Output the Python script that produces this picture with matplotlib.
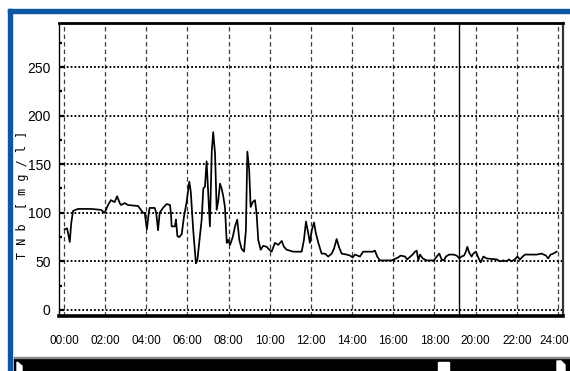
import matplotlib
matplotlib.use("Agg")
import matplotlib.pyplot as plt
import matplotlib.transforms as mtransforms
from matplotlib.patches import Rectangle, Polygon

# ---- data (hours, TNb mg/l) ----
hours = [0.03, 0.15, 0.28, 0.35, 0.44, 0.68, 1.31, 1.80, 1.98, 2.14, 2.28, 2.46, 2.58, 2.71, 2.77,
         2.95, 3.11, 3.60, 3.74, 3.84, 3.92, 4.03, 4.12, 4.16, 4.41, 4.48, 4.57, 4.65, 4.81, 4.99,
         5.15, 5.20, 5.23, 5.39, 5.44, 5.51, 5.60, 5.72, 5.83, 5.96, 6.09, 6.16, 6.28, 6.41, 6.48,
         6.57, 6.69, 6.77, 6.85, 6.93, 7.06, 7.09, 7.18, 7.25, 7.34, 7.42, 7.50, 7.58, 7.66, 7.74,
         7.82, 7.91, 7.98, 8.07, 8.20, 8.31, 8.42, 8.52, 8.63, 8.75, 8.84, 8.91, 9.00, 9.07, 9.17,
         9.28, 9.36, 9.44, 9.56, 9.68, 9.85, 9.98, 10.09, 10.25, 10.41, 10.58, 10.69, 10.82, 10.98,
         11.14, 11.55, 11.66, 11.76, 11.87, 11.95, 12.04, 12.15, 12.24, 12.36, 12.52, 12.68, 12.84,
         13.01, 13.12, 13.25, 13.36, 13.49, 13.74, 13.90, 14.03, 14.14, 14.38, 14.54, 14.79, 15.00,
         15.11, 15.22, 15.35, 15.92, 16.24, 16.36, 16.57, 16.68, 16.94, 17.06, 17.14, 17.22, 17.30,
         17.44, 17.62, 17.98, 18.11, 18.24, 18.35, 18.46, 18.56, 18.72, 18.92, 19.08, 19.21, 19.32,
         19.44, 19.53, 19.60, 19.69, 19.81, 19.89, 20.02, 20.13, 20.25, 20.38, 20.54, 21.03, 21.19,
         21.35, 21.51, 21.62, 21.75, 21.91, 22.03, 22.16, 22.29, 22.40, 22.56, 22.97, 23.21, 23.42,
         23.53, 23.65, 23.78, 23.94]
tnb = [83, 84, 70, 89, 102, 104, 104, 103, 100, 108, 113, 111, 117, 110, 108,
       110, 108, 107, 103, 100, 100, 83, 100, 105, 105, 100, 82, 100, 105, 109,
       108, 99, 86, 86, 93, 76, 75, 78, 96, 111, 132, 122, 82, 48, 51,
       69, 93, 125, 127, 153, 99, 86, 163, 183, 161, 103, 113, 130, 125, 117,
       106, 69, 72, 67, 75, 86, 93, 72, 63, 60, 82, 163, 144, 106, 111,
       113, 99, 72, 62, 66, 65, 62, 60, 69, 67, 71, 65, 62, 61,
       60, 60, 72, 91, 79, 69, 82, 90, 79, 69, 58, 58, 55,
       58, 63, 73, 65, 58, 57, 56, 54, 57, 55, 60, 60, 60,
       61, 55, 51, 51, 54, 56, 55, 52, 57, 60, 61, 51, 57,
       53, 51, 51, 55, 58, 52, 51, 55, 57, 57, 56, 53, 55,
       56, 60, 65, 59, 55, 58, 60, 54, 49, 55, 53, 52, 50,
       51, 50, 52, 50, 52, 55, 52, 55, 57, 57, 57, 58, 56,
       53, 57, 58, 60]

xtick_hours = list(range(0, 25, 2))
xtick_labels = ["%02d:00" % h for h in xtick_hours]
ytick_vals = [0, 50, 100, 150, 200, 250]
cursor_hour = 19.2
ylabel = "T N b  [ m g / l ]"

FONT = ["Liberation Sans", "DejaVu Sans"]

fig = plt.figure(figsize=(5.70, 3.71), dpi=100)
W, H = 570, 371

def fx(px):
    return px / W

def fy(py):
    return 1 - py / H

blue = "#0b57a3"
# blue window frame
fig.patches.append(Rectangle((fx(8), 0), fx(4), fy(9), transform=fig.transFigure, color=blue, zorder=0))
fig.patches.append(Rectangle((fx(8), fy(13)), 1, 4 / H, transform=fig.transFigure, color=blue, zorder=0))

# scrollbar
fig.patches.append(Rectangle((fx(14), 0), 1, fy(358), transform=fig.transFigure, color="black", zorder=1))
fig.patches.append(Rectangle((fx(14), fy(358)), 1, 1 / H, transform=fig.transFigure, color="#888888", zorder=1))
fig.patches.append(Rectangle((fx(438), 0), fx(11), fy(362), transform=fig.transFigure, color="white", zorder=2))
fig.patches.append(Polygon([[fx(17), fy(371)], [fx(17), fy(362)], [fx(22), fy(366)], [fx(22), fy(371)]],
                           closed=True, transform=fig.transFigure, color="white", zorder=2))
fig.patches.append(Polygon([[fx(557), fy(371)], [fx(557), fy(361)], [fx(561), fy(361)], [fx(565), fy(365)], [fx(565), fy(371)]],
                           closed=True, transform=fig.transFigure, color="white", zorder=2))

ax = fig.add_axes([fx(59), fy(316), fx(563 - 59), (316 - 23) / H])
ax.set_xlim(-0.243, 24.25)
ax.set_ylim(-6.2, 295.3)

for h in xtick_hours:
    ax.axvline(h, color="#3a3a3a", lw=0.9, linestyle=(0, (3.5, 2.5)), zorder=1)
for v in ytick_vals:
    ax.axhline(v, color="black", lw=1.4, linestyle=(0, (0.9, 1.1)), zorder=1)

ax.axvline(cursor_hour, color="black", lw=1.0, zorder=3)
ax.plot(hours, tnb, color="black", lw=1.25, zorder=4)

ax.set_xticks(xtick_hours)
ax.set_xticklabels(xtick_labels, family=FONT, fontsize=8.5)
ax.set_yticks(ytick_vals)
ax.set_yticklabels([str(v) for v in ytick_vals], family=FONT, fontsize=10)
ax.set_yticks([25, 75, 125, 175, 225, 275], minor=True)
ax.tick_params(axis="x", length=0, pad=14)
ax.tick_params(axis="y", which="major", direction="in", length=3.5, width=1.6, pad=6)
ax.tick_params(axis="y", which="minor", direction="in", length=2, width=1.6)

# keep the last label inside the canvas
last = ax.get_xticklabels()[-1]
last.set_transform(last.get_transform() + mtransforms.ScaledTranslation(-4 / 100, 0, fig.dpi_scale_trans))

ax.spines["top"].set_linewidth(2.0)
ax.spines["bottom"].set_linewidth(2.6)
ax.spines["left"].set_linewidth(1.0)
ax.spines["right"].set_linewidth(1.6)
ax.spines["right"].set_color("#333333")

fig.text(fx(23), fy(195), ylabel, rotation=90, ha="center", va="center",
         family=["DejaVu Sans Mono"], fontsize=8.5)

fig.savefig("out.png", dpi=100)
